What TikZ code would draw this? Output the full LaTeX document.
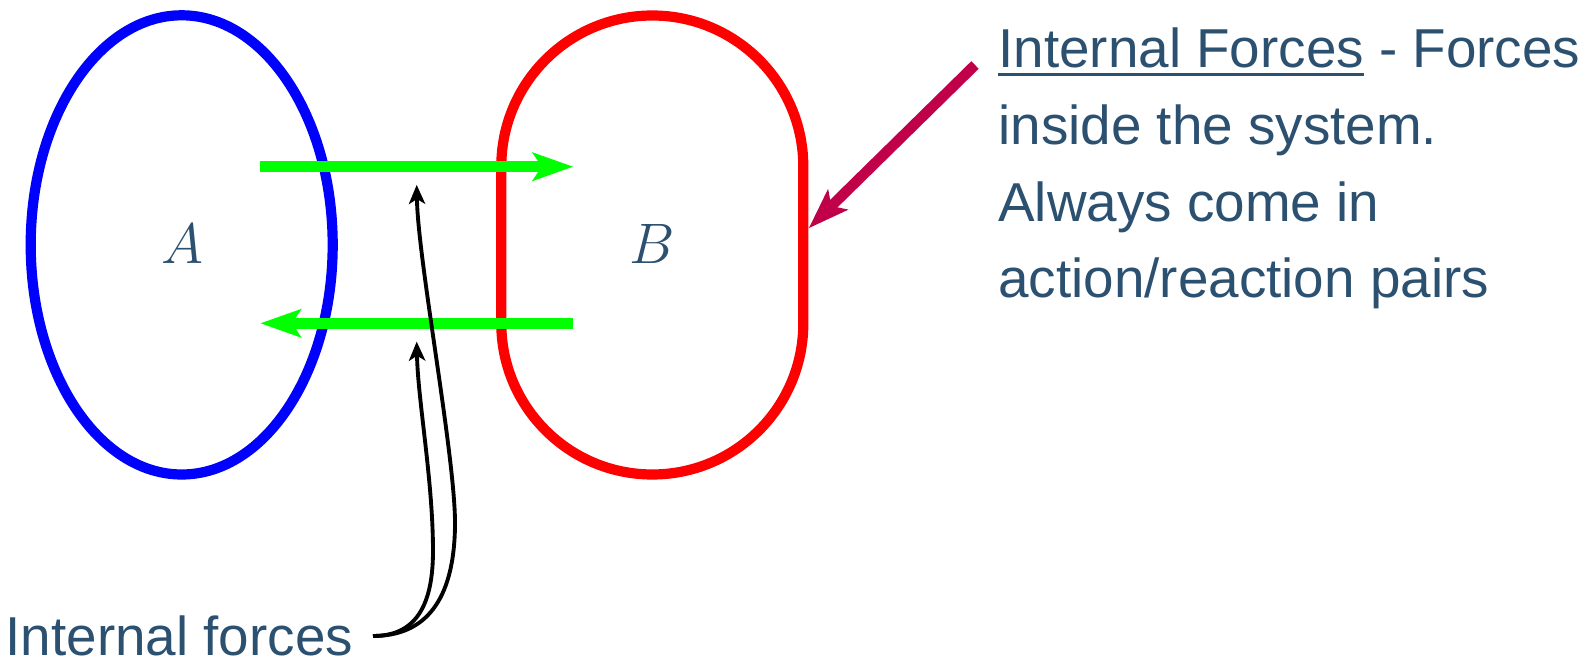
\documentclass[tikz,border=0pt]{standalone}
\usepackage{fontspec}
\setmainfont{Liberation Sans}
\usetikzlibrary{arrows.meta}
\definecolor{ink}{HTML}{2C5070}
\definecolor{maroon}{HTML}{C00048}
\newcommand{\ulinetext}[1]{\setbox0\hbox{#1}\rlap{\rule[-2.3pt]{\wd0}{0.95pt}}\box0\relax}

\begin{document}
\begin{tikzpicture}[font=\fontsize{15.6}{21.8}\selectfont,text=ink,
  body/.style={line width=2.9pt},
  force/.style={line width=3pt,-{Stealth[length=11.7pt,width=8.3pt,inset=2.8pt,line width=0pt]}},
  pointer/.style={black,line width=1.1pt,-{Stealth[length=5.5pt,width=4.8pt,inset=1.5pt,line width=0pt]}},
  note/.style={inner sep=0pt,align=left},
  letter/.style={font=\fontsize{17.28}{20}\selectfont,scale=0.94,transform shape}]
  \useasboundingbox (0,0) rectangle (15.93,6.61);
  % the two bodies
  \draw[body,blue] (1.817,4.161) ellipse [x radius=1.51,y radius=2.296];
  \draw[body,red] (5.013,3.375) -- (5.013,4.945) arc (180:0:1.51) -- (8.033,3.375) arc (0:-180:1.51) -- cycle;
  \node[letter] (A) at (1.82,4.17) {$A$};
  \node[letter] (B) at (6.52,4.17) {$B$};
  % action/reaction pair
  \coordinate (onB) at (5.73,4.943);
  \coordinate (onA) at (2.607,3.377);
  \draw[force,green] (2.60,4.943) -- (onB);
  \draw[force,green] (5.73,3.377) -- (onA);
  % labels
  \coordinate (tail) at (3.73,0.25);
  \coordinate (up) at (4.167,4.76);
  \coordinate (low) at (4.167,3.193);
  \node[note,anchor=east,outer xsep=2mm] (lbl) at (tail) {Internal forces};
  \draw[pointer] (lbl.east) .. controls (4.25,0.25) and (4.54,0.6) .. (4.55,1.35)
    .. controls (4.56,2.0) and (4.18,4.0) .. (up);
  \draw[pointer] (lbl.east) .. controls (4.12,0.25) and (4.33,0.5) .. (4.33,1.1)
    .. controls (4.33,1.8) and (4.18,2.6) .. (low);
  \node[note,anchor=base west] (def) at (9.977,3.632)
    {\ulinetext{Internal Forces} - Forces\\inside the system.\\Always come in\\action/reaction pairs};
  \coordinate (start) at (9.75,5.96);
  \coordinate (edgeB) at (8.09,4.33);
  \draw[force,maroon] (start) -- (edgeB);
\end{tikzpicture}
\end{document}
